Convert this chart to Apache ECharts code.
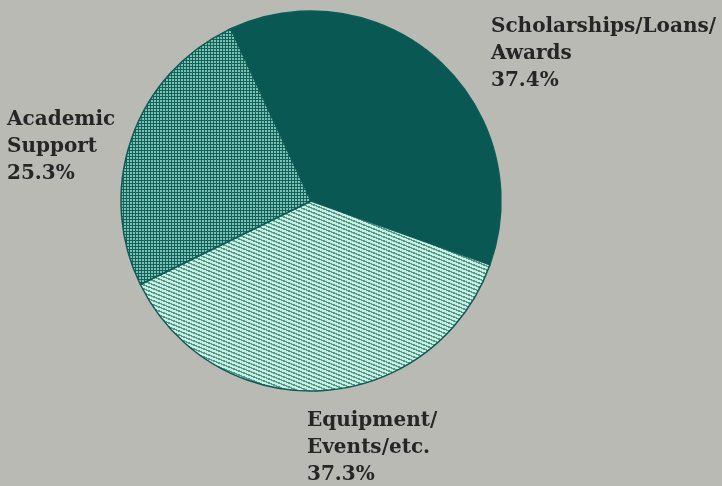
<!DOCTYPE html>
<html>
<head>
<meta charset="utf-8">
<style>
  html, body { margin: 0; padding: 0; background: #b8bab3; }
  #chart { width: 722px; height: 486px; }
</style>
<script src="https://cdn.jsdelivr.net/npm/echarts@6/dist/echarts.min.js"></script>
</head>
<body>
<div id="chart"></div>
<script>
// Budget shares, clockwise from the top-left boundary
const categories = ['Scholarships/Loans/\nAwards', 'Equipment/\nEvents/etc.', 'Academic\nSupport'];
const shares = [37.4, 37.3, 25.3];

// Label anchor (top-left corner of each label block)
const labelSpots = [[491, 13], [307, 407], [7, 106]];

// Pixel tile helper for the hatched fills
function makeTile(w, h, pick) {
  const c = document.createElement('canvas');
  c.width = w; c.height = h;
  const ctx = c.getContext('2d');
  const img = ctx.createImageData(w, h);
  for (let y = 0; y < h; y++) {
    for (let x = 0; x < w; x++) {
      const col = pick(x, y);
      const i = (y * w + x) * 4;
      img.data[i] = col[0]; img.data[i + 1] = col[1]; img.data[i + 2] = col[2]; img.data[i + 3] = 255;
    }
  }
  ctx.putImageData(img, 0, 0);
  return c;
}

// Diagonal stripes descending to the right
const stripeTile = makeTile(10, 4, (x, y) => {
  const t = ((y - x * 0.4) % 4 + 4) % 4;
  return t < 2.4 ? [204, 238, 224] : [78, 154, 140];
});

// Fine woven grid: teal lines around light cells
const gridTile = makeTile(3, 3, (x, y) => {
  return (x === 0 || y === 0) ? [18, 98, 92] : [126, 192, 178];
});

const fills = [
  '#0a5854',
  { image: stripeTile, repeat: 'repeat' },
  { image: gridTile, repeat: 'repeat' }
];

const chart = echarts.init(document.getElementById('chart'), null, { renderer: 'canvas' });
chart.setOption({
  backgroundColor: '#b8bab3',
  animation: false,
  series: [{
    type: 'pie',
    center: [311, 201],
    radius: 190,
    startAngle: 115,
    clockwise: true,
    silent: true,
    itemStyle: { borderColor: '#0e5a56', borderWidth: 1.5 },
    label: {
      show: true,
      position: 'outside',
      formatter: p => p.name + '\n' + p.value.toFixed(1) + '%',
      fontFamily: 'DejaVu Serif',
      fontWeight: 'bold',
      fontSize: 20,
      lineHeight: 27,
      color: '#262626',
      align: 'left',
      overflow: 'none'
    },
    labelLine: { show: false },
    labelLayout: p => ({
      x: labelSpots[p.dataIndex][0],
      y: labelSpots[p.dataIndex][1],
      align: 'left',
      verticalAlign: 'top',
      hideOverlap: false
    }),
    data: categories.map((name, i) => ({ name, value: shares[i], itemStyle: { color: fills[i] } }))
  }]
});
</script>
</body>
</html>
